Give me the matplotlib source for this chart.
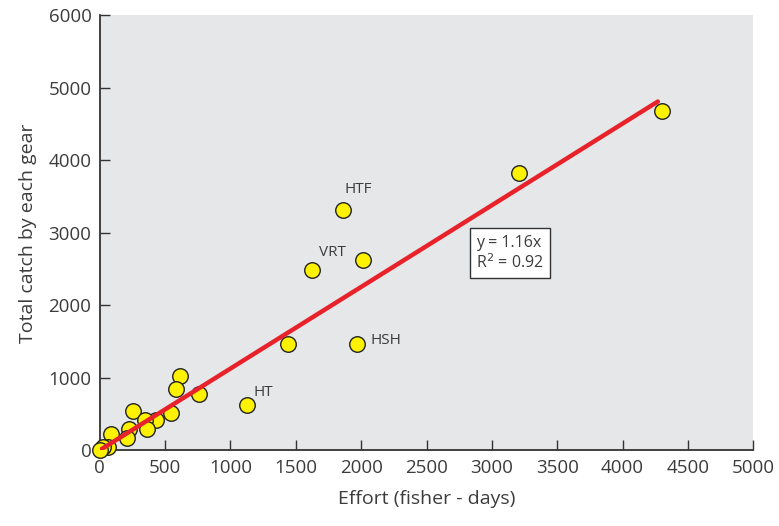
import matplotlib
matplotlib.use("Agg")
import matplotlib.pyplot as plt

# effort (fisher-days) vs total catch per gear
effort = [4303, 3208, 1861, 1623, 2014, 1968, 1440, 1126, 758, 613, 582,
          544, 251, 429, 345, 360, 222, 207, 84, 60, 25, 5]
catch = [4680, 3830, 3310, 2480, 2630, 1460, 1460, 620, 780, 1030, 840,
         520, 540, 420, 420, 300, 290, 170, 220, 40, 50, 10]
label_pos = {"HTF": (1980, 3590), "VRT": (1780, 2730), "HSH": (2070, 1520), "HT": (1250, 800)}

# fitted line (y = 1.16x) as drawn
fit_x = [0, 4270]
fit_y = [0, 4810]

txt = "#3c3c3c"
plt.rcParams["font.family"] = ["Open Sans", "DejaVu Sans"]

fig = plt.figure(figsize=(7.79, 5.26), dpi=100)
ax = fig.add_axes([0.128, 0.144, 0.839, 0.827])
ax.set_facecolor("#e6e7e8")

ax.scatter(effort, catch, s=125, facecolor="#fff200", edgecolor="#222222",
           linewidth=1.0, zorder=3, clip_on=False)
ax.plot(fit_x, fit_y, color="#e8222a", lw=3.2, zorder=4, solid_capstyle="round")

for name, (x, y) in label_pos.items():
    ax.text(x, y, name, fontsize=11, color=txt,
            ha="left" if name == "HSH" else "center", va="center")

ax.text(2880, 2720, "y = 1.16x\nR$^2$ = 0.92", fontsize=11.5, color=txt,
        va="center", ha="left", linespacing=1.15,
        bbox=dict(boxstyle="square,pad=0.4", facecolor="white", edgecolor="#333333", lw=1))

ax.set_xlim(0, 5000)
ax.set_ylim(0, 6000)
ax.set_xticks(range(0, 5001, 500))
ax.set_yticks(range(0, 6001, 1000))
ax.tick_params(direction="in", length=7, width=1, colors="#333333", labelcolor=txt,
               labelsize=13.5, pad=6)
for side in ["top", "right"]:
    ax.spines[side].set_visible(False)
for side in ["left", "bottom"]:
    ax.spines[side].set_color("#333333")
    ax.spines[side].set_linewidth(1.3)

ax.set_xlabel("Effort (fisher - days)", fontsize=14, color=txt, labelpad=10)
ax.set_ylabel("Total catch by each gear", fontsize=14, color=txt, labelpad=8)

fig.savefig("out.png", dpi=100)
